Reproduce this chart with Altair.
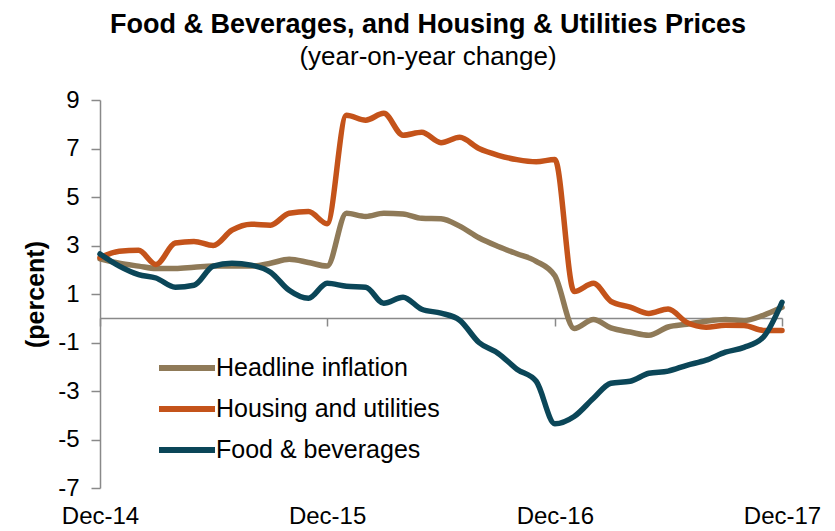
import altair as alt
import pandas as pd

months = [
    "2014-12-01", "2015-01-01", "2015-02-01", "2015-03-01", "2015-04-01", "2015-05-01",
    "2015-06-01", "2015-07-01", "2015-08-01", "2015-09-01", "2015-10-01", "2015-11-01",
    "2015-12-01", "2016-01-01", "2016-02-01", "2016-03-01", "2016-04-01", "2016-05-01",
    "2016-06-01", "2016-07-01", "2016-08-01", "2016-09-01", "2016-10-01", "2016-11-01",
    "2016-12-01", "2017-01-01", "2017-02-01", "2017-03-01", "2017-04-01", "2017-05-01",
    "2017-06-01", "2017-07-01", "2017-08-01", "2017-09-01", "2017-10-01", "2017-11-01",
    "2017-12-01",
]

headline = [2.45, 2.27, 2.15, 2.05, 2.05, 2.1, 2.15, 2.15, 2.15, 2.27, 2.43, 2.3,
            2.15, 4.33, 4.2, 4.33, 4.3, 4.12, 4.1, 3.8, 3.32, 2.96, 2.66, 2.35,
            1.75, -0.42, -0.05, -0.4, -0.57, -0.7, -0.36, -0.25, -0.12, -0.05, -0.1, 0.12,
            0.45]

housing = [2.5, 2.76, 2.8, 2.22, 3.1, 3.17, 3.0, 3.63, 3.88, 3.84, 4.33, 4.4,
           3.9, 8.37, 8.17, 8.45, 7.55, 7.67, 7.24, 7.46, 7.0, 6.72, 6.54, 6.45,
           6.55, 1.1, 1.44, 0.7, 0.46, 0.2, 0.38, -0.17, -0.37, -0.29, -0.3, -0.5,
           -0.5]

food = [2.65, 2.15, 1.8, 1.66, 1.28, 1.36, 2.15, 2.27, 2.19, 1.9, 1.15, 0.82,
        1.44, 1.32, 1.28, 0.62, 0.87, 0.37, 0.21, -0.08, -1.0, -1.45, -2.1, -2.6,
        -4.35, -4.05, -3.3, -2.68, -2.6, -2.27, -2.18, -1.94, -1.73, -1.4, -1.2, -0.78,
        0.66]

series_names = ["Headline inflation", "Housing and utilities", "Food & beverages"]
series_colors = ["#8F7A58", "#C4531A", "#0B4658"]
y_ticks = [-7, -5, -3, -1, 1, 3, 5, 7, 9]

rows = []
for name, vals in zip(series_names, [headline, housing, food]):
    for m, v in zip(months, vals):
        rows.append({"date": m, "value": v, "series": name})
df = pd.DataFrame(rows)

FONT = "Liberation Sans"

x_vals = [alt.DateTime(year=y, month=12, date=1, utc=True) for y in (2014, 2015, 2016, 2017)]

chart = (
    alt.Chart(df)
    .mark_line(interpolate="monotone", strokeWidth=5.5, strokeCap="round", strokeJoin="round")
    .encode(
        x=alt.X(
            "date:T",
            scale=alt.Scale(
                type="utc",
                domain=[alt.DateTime(year=2014, month=12, date=1, utc=True),
                        alt.DateTime(year=2017, month=12, date=1, utc=True)],
            ),
            axis=alt.Axis(
                title=None,
                values=x_vals,
                format="%b-%y",
                offset=-170,
                domainColor="#898989",
                domainWidth=1.5,
                tickColor="#898989",
                tickWidth=1.5,
                tickSize=8,
                labelPadding=178,
                labelFont=FONT,
                labelFontSize=24,
                labelColor="#000000",
                grid=False,
                labelFlush=False,
            ),
        ),
        y=alt.Y(
            "value:Q",
            scale=alt.Scale(domain=[-7, 9], nice=False, zero=False),
            axis=alt.Axis(
                title="(percent)",
                titleFont=FONT,
                titleFontSize=25,
                titleFontWeight="bold",
                titleColor="#000000",
                titlePadding=9,
                values=y_ticks,
                labelExpr="'' + datum.value",
                domainColor="#898989",
                domainWidth=1.5,
                tickColor="#898989",
                tickWidth=1.5,
                tickSize=9,
                labelPadding=12,
                labelFont=FONT,
                labelFontSize=24,
                labelColor="#000000",
                grid=False,
            ),
        ),
        color=alt.Color(
            "series:N",
            scale=alt.Scale(domain=series_names, range=series_colors),
            legend=alt.Legend(
                title=None,
                orient="none",
                legendX=70,
                legendY=251,
                symbolType="M-2,0H2",
                symbolSize=784,
                symbolStrokeWidth=6,
                symbolFillColor="transparent",
                labelFont=FONT,
                labelFontSize=25,
                labelColor="#000000",
                labelOffset=12,
                labelLimit=400,
                rowPadding=11,
                padding=0,
            ),
        ),
        order=alt.Order("series:N"),
    )
    .properties(
        width=682,
        height=388,
        title=alt.TitleParams(
            text="Food & Beverages, and Housing & Utilities Prices",
            subtitle="(year-on-year change)",
            font=FONT,
            fontSize=27,
            fontWeight="bold",
            color="#000000",
            subtitleFont=FONT,
            subtitleFontSize=26,
            subtitleColor="#000000",
            subtitlePadding=5,
            anchor="middle",
            dx=-13,
            offset=17,
        ),
        autosize=alt.AutoSizeParams(type="none"),
        padding={"left": 92, "top": 92, "right": 45, "bottom": 40},
    )
    .configure_view(stroke=None)
)

chart.save("out.html", embed_options={"renderer": "svg", "actions": False})
